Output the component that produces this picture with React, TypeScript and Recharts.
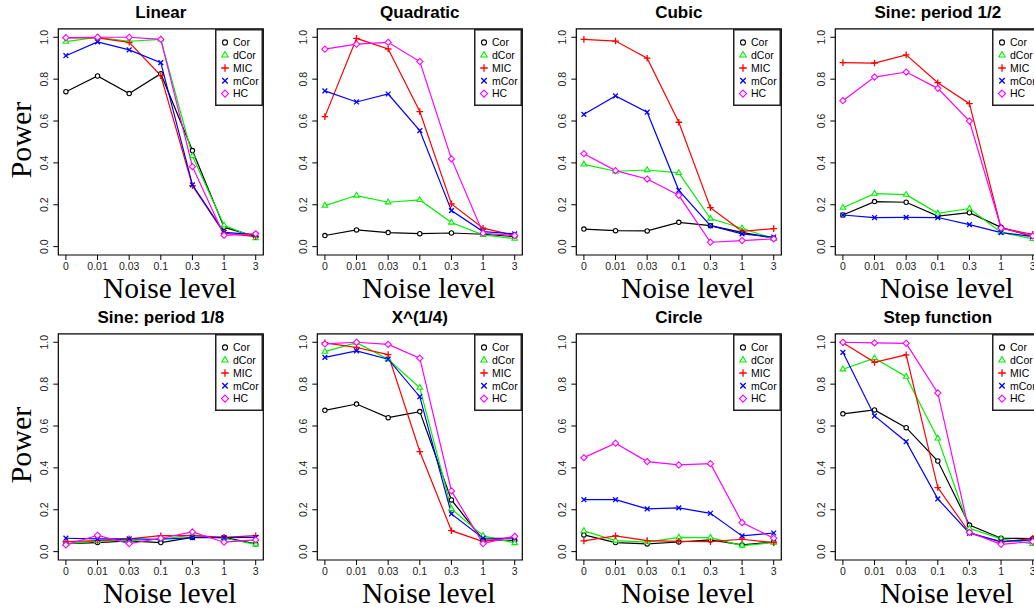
import React from 'react';
import { LineChart, Line, XAxis, YAxis, ReferenceArea, Legend } from 'recharts';

// noise levels on the x axis (plotted at positions 1..7)
const noiseLevels = ['0', '0.01', '0.03', '0.1', '0.3', '1', '3'];
const powerTicks = [0, 0.2, 0.4, 0.6, 0.8, 1.0];
const methods = ['Cor', 'dCor', 'MIC', 'mCor', 'HC'];

// power per method, one value per noise level
const linearPower = {
  Cor: [0.74, 0.815, 0.731, 0.826, 0.459, 0.093, 0.048],
  dCor: [0.979, 1.0, 0.981, 0.99, 0.433, 0.102, 0.041],
  MIC: [0.997, 0.997, 0.976, 0.817, 0.291, 0.064, 0.048],
  mCor: [0.912, 0.978, 0.94, 0.879, 0.295, 0.068, 0.057],
  HC: [0.998, 1.0, 1.0, 0.99, 0.382, 0.054, 0.061],
};
const quadraticPower = {
  Cor: [0.053, 0.08, 0.067, 0.062, 0.065, 0.059, 0.048],
  dCor: [0.196, 0.244, 0.212, 0.223, 0.115, 0.056, 0.038],
  MIC: [0.621, 0.995, 0.944, 0.645, 0.204, 0.088, 0.053],
  mCor: [0.744, 0.691, 0.729, 0.554, 0.172, 0.072, 0.061],
  HC: [0.943, 0.967, 0.976, 0.884, 0.419, 0.064, 0.053],
};
const cubicPower = {
  Cor: [0.084, 0.076, 0.075, 0.116, 0.1, 0.068, 0.04],
  dCor: [0.393, 0.36, 0.366, 0.352, 0.134, 0.088, 0.037],
  MIC: [0.99, 0.982, 0.9, 0.594, 0.186, 0.073, 0.086],
  mCor: [0.632, 0.72, 0.642, 0.269, 0.1, 0.061, 0.046],
  HC: [0.444, 0.363, 0.323, 0.245, 0.021, 0.029, 0.037],
};
const sineHalfPower = {
  Cor: [0.151, 0.215, 0.212, 0.146, 0.162, 0.092, 0.048],
  dCor: [0.186, 0.253, 0.248, 0.159, 0.182, 0.068, 0.037],
  MIC: [0.879, 0.877, 0.916, 0.783, 0.683, 0.088, 0.059],
  mCor: [0.151, 0.139, 0.14, 0.139, 0.105, 0.067, 0.048],
  HC: [0.697, 0.81, 0.834, 0.756, 0.6, 0.089, 0.051],
};
const sineEighthPower = {
  Cor: [0.038, 0.043, 0.051, 0.043, 0.068, 0.068, 0.037],
  dCor: [0.037, 0.051, 0.054, 0.059, 0.08, 0.064, 0.035],
  MIC: [0.048, 0.053, 0.061, 0.076, 0.076, 0.068, 0.076],
  mCor: [0.064, 0.061, 0.061, 0.059, 0.067, 0.067, 0.068],
  HC: [0.032, 0.078, 0.038, 0.064, 0.094, 0.045, 0.056],
};
const quarterRootPower = {
  Cor: [0.675, 0.705, 0.64, 0.669, 0.247, 0.056, 0.054],
  dCor: [0.955, 0.998, 0.919, 0.783, 0.204, 0.076, 0.041],
  MIC: [0.997, 0.975, 0.941, 0.478, 0.1, 0.048, 0.072],
  mCor: [0.928, 0.959, 0.919, 0.74, 0.18, 0.064, 0.064],
  HC: [0.992, 1.0, 0.99, 0.924, 0.29, 0.038, 0.073],
};
const circlePower = {
  Cor: [0.08, 0.043, 0.037, 0.046, 0.056, 0.032, 0.046],
  dCor: [0.099, 0.053, 0.045, 0.068, 0.067, 0.029, 0.043],
  MIC: [0.051, 0.075, 0.053, 0.049, 0.048, 0.059, 0.043],
  mCor: [0.248, 0.248, 0.204, 0.209, 0.183, 0.075, 0.089],
  HC: [0.449, 0.518, 0.43, 0.414, 0.42, 0.139, 0.064],
};
const stepPower = {
  Cor: [0.658, 0.677, 0.592, 0.433, 0.127, 0.064, 0.062],
  dCor: [0.871, 0.924, 0.836, 0.541, 0.111, 0.061, 0.037],
  MIC: [0.998, 0.904, 0.94, 0.306, 0.091, 0.045, 0.064],
  mCor: [0.952, 0.648, 0.525, 0.252, 0.088, 0.048, 0.056],
  HC: [1.0, 0.997, 0.995, 0.758, 0.092, 0.035, 0.048],
};

const panels = [
  { title: 'Linear', power: linearPower },
  { title: 'Quadratic', power: quadraticPower },
  { title: 'Cubic', power: cubicPower },
  { title: 'Sine: period 1/2', power: sineHalfPower },
  { title: 'Sine: period 1/8', power: sineEighthPower },
  { title: 'X^(1/4)', power: quarterRootPower },
  { title: 'Circle', power: circlePower },
  { title: 'Step function', power: stepPower },
];

const colors: Record<string, string> = { Cor: '#000000', dCor: '#00f000', MIC: '#ff0000', mCor: '#0000ff', HC: '#ff00ff' };
const shapes: Record<string, string> = { Cor: 'circle', dCor: 'triangle', MIC: 'plus', mCor: 'cross', HC: 'diamond' };

const SANS = '"Liberation Sans", Arial, Helvetica, sans-serif';
const SERIF = '"Liberation Serif", "Times New Roman", serif';

const PANEL_W = 270;
const PANEL_H = 305;
const PLOT_LEFT = 58.3;
const PLOT_W = 205;
const PLOT_TOP = 28.9;

const Marker = ({ shape, cx, cy, color, s = 1 }: any) => {
  if (cx == null || cy == null) return null;
  const sw = 1.1;
  if (shape === 'circle') {
    return <circle cx={cx} cy={cy} r={2.2 * s} fill="#fff" stroke={color} strokeWidth={sw} />;
  }
  if (shape === 'triangle') {
    const r = 3.2 * s;
    const pts = `${cx},${cy - r} ${cx - r * 0.87},${cy + r * 0.5} ${cx + r * 0.87},${cy + r * 0.5}`;
    return <polygon points={pts} fill="#fff" stroke={color} strokeWidth={sw} />;
  }
  if (shape === 'plus') {
    const r = 3.3 * s;
    return <path d={`M${cx - r},${cy}H${cx + r}M${cx},${cy - r}V${cy + r}`} stroke={color} strokeWidth={1.3} fill="none" />;
  }
  if (shape === 'cross') {
    const r = 2.4 * s;
    return (
      <path
        d={`M${cx - r},${cy - r}L${cx + r},${cy + r}M${cx - r},${cy + r}L${cx + r},${cy - r}`}
        stroke={color}
        strokeWidth={1.3}
        fill="none"
      />
    );
  }
  const r = 3.1 * s;
  const pts = `${cx},${cy - r} ${cx + r},${cy} ${cx},${cy + r} ${cx - r},${cy}`;
  return <polygon points={pts} fill="#fff" stroke={color} strokeWidth={sw} />;
};

const XTick = ({ x, y, payload }: any) => (
  <text x={x} y={y + 8} textAnchor="middle" fontSize={10.5} fontFamily={SANS} fill="#222">
    {noiseLevels[payload.value - 1]}
  </text>
);

const YTick = ({ x, y, payload }: any) => {
  const bx = x - 3;
  return (
    <text x={bx} y={y} transform={`rotate(-90 ${bx} ${y})`} textAnchor="middle" fontSize={10.5} fontFamily={SANS} fill="#222">
      {payload.value.toFixed(1)}
    </text>
  );
};

const LegendBox = () => (
  <svg width={48} height={77} style={{ display: 'block' }}>
    <rect x={0.75} y={0.75} width={46.5} height={75.5} fill="#fff" stroke="#222" strokeWidth={1.5} />
    {methods.map((m, i) => {
      const cy = 13.4 + 12.8 * i;
      return (
        <g key={m}>
          <Marker shape={shapes[m]} cx={10} cy={cy} color={colors[m]} s={1.15} />
          <text x={18} y={cy + 3.8} fontSize={10.5} fontFamily={SANS} fill="#000">
            {m}
          </text>
        </g>
      );
    })}
  </svg>
);

const Panel = ({ title, power, left, top, showPower }: any) => {
  const rows = noiseLevels.map((_, i) => {
    const row: any = { x: i + 1 };
    methods.forEach((m) => {
      row[m] = power[m][i];
    });
    return row;
  });

  return (
    <div style={{ position: 'absolute', left, top, width: PANEL_W, height: PANEL_H }}>
      <LineChart
        width={PANEL_W}
        height={PANEL_H}
        data={rows}
        margin={{ top: PLOT_TOP, right: PANEL_W - PLOT_LEFT - PLOT_W, bottom: 0, left: 0 }}
      >
        <XAxis
          dataKey="x"
          type="number"
          domain={[0.76, 7.24]}
          ticks={[1, 2, 3, 4, 5, 6, 7]}
          interval={0}
          allowDataOverflow
          height={50}
          axisLine={false}
          tickSize={5}
          tickLine={{ stroke: '#000' }}
          tick={<XTick />}
        />
        <YAxis
          type="number"
          domain={[-0.04, 1.04]}
          ticks={powerTicks}
          interval={0}
          allowDataOverflow
          width={PLOT_LEFT}
          axisLine={false}
          tickSize={5}
          tickLine={{ stroke: '#000' }}
          tick={<YTick />}
        />
        <ReferenceArea x1={0.76} x2={7.24} y1={-0.04} y2={1.04} fill="none" stroke="#000" strokeWidth={1.2} ifOverflow="visible" />
        {methods.map((m) => (
          <Line
            key={m}
            dataKey={m}
            type="linear"
            stroke={colors[m]}
            strokeWidth={1.2}
            isAnimationActive={false}
            activeDot={false}
            dot={(p: any) => <Marker key={`${m}-${p.index}`} shape={shapes[m]} cx={p.cx} cy={p.cy} color={colors[m]} />}
          />
        ))}
        <Legend
          layout="vertical"
          align="center"
          verticalAlign="middle"
          wrapperStyle={{ left: PLOT_LEFT + PLOT_W - 48, top: PLOT_TOP, width: 48, height: 77 }}
          content={() => <LegendBox />}
        />
      </LineChart>
      <div
        style={{
          position: 'absolute',
          left: PLOT_LEFT,
          width: PLOT_W,
          top: 2.7,
          lineHeight: '20px',
          textAlign: 'center',
          fontFamily: SANS,
          fontWeight: 'bold',
          fontSize: 17,
          color: '#000',
          whiteSpace: 'nowrap',
        }}
      >
        {title}
      </div>
      <div
        style={{
          position: 'absolute',
          left: PLOT_LEFT + 9,
          width: PLOT_W,
          top: 273.5,
          lineHeight: '29px',
          textAlign: 'center',
          fontFamily: SERIF,
          fontSize: 29.5,
          color: '#000',
          whiteSpace: 'nowrap',
        }}
      >
        Noise level
      </div>
      {showPower && (
        <div
          style={{
            position: 'absolute',
            left: 21 - 60,
            top: 140 - 15,
            width: 120,
            lineHeight: '30px',
            textAlign: 'center',
            fontFamily: SERIF,
            fontSize: 30,
            color: '#000',
            transform: 'rotate(-90deg)',
            whiteSpace: 'nowrap',
          }}
        >
          Power
        </div>
      )}
    </div>
  );
};

const App: React.FC = () => (
  <div style={{ position: 'absolute', left: 0, top: 0, width: 1034, height: 611, overflow: 'hidden', background: '#fff' }}>
    {panels.map((p, i) => (
      <Panel
        key={p.title}
        title={p.title}
        power={p.power}
        left={259 * (i % 4)}
        top={305 * Math.floor(i / 4)}
        showPower={i % 4 === 0}
      />
    ))}
  </div>
);

export default App;
